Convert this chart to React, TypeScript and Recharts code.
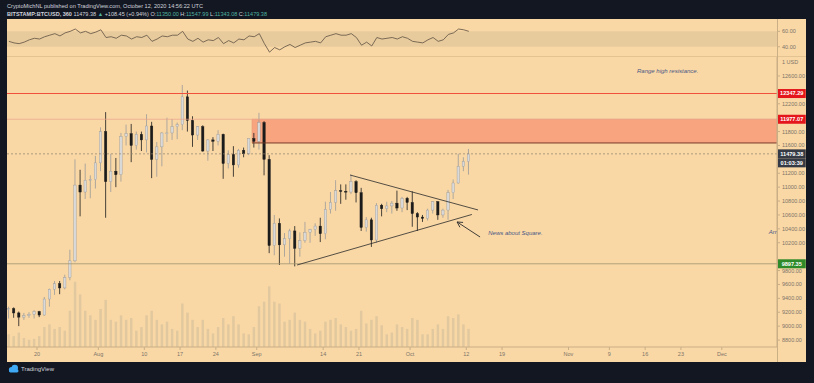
import React from 'react';
import { ComposedChart, LineChart, Line, Bar, XAxis, YAxis, ReferenceLine, ReferenceArea, ReferenceDot } from 'recharts';

// Days counted from 20 Jul 2020 (day 0). First candle = 14 Jul 2020.
const firstDay = -6;

const opens = [
  9250, 9250, 9190, 9130, 9150, 9170, 9210, 9160, 9390, 9530,
  9610, 9550, 9700, 9940, 11030, 10930, 11100, 11110, 11350, 11800,
  11080, 11230, 11180, 11730, 11770, 11600, 11760, 11680, 11880, 11400,
  11580, 11780, 11780, 11870, 11900, 12300, 11960, 11750, 11870, 11520,
  11680, 11660, 11760, 11340, 11470, 11320, 11530, 11480, 11700, 11660,
  11930, 11400, 10160, 10480, 10170, 10260, 10370, 10120, 10230, 10350,
  10390, 10440, 10330, 10680, 10780, 10950, 10940, 10930, 11080, 10920,
  10420, 10530, 10240, 10740, 10690, 10730, 10770, 10700, 10840, 10780,
  10620, 10570, 10550, 10670, 10790, 10600, 10670, 10920, 11060, 11300,
  11370,
];
const highs = [
  9280, 9270, 9210, 9190, 9200, 9230, 9220, 9420, 9540, 9650,
  9650, 9740, 10100, 11400, 11250, 11340, 11170, 11450, 11860, 12080,
  11480, 11420, 11780, 11900, 11910, 11800, 11800, 12050, 11940, 11650,
  11790, 12000, 11980, 11930, 12470, 12390, 12020, 11880, 11890, 11690,
  11720, 11820, 11770, 11530, 11590, 11550, 11570, 11700, 11780, 12070,
  11950, 11460, 10600, 10550, 10340, 10400, 10440, 10350, 10500, 10400,
  10480, 10560, 10790, 10930, 11100, 11040, 11040, 11180, 11100, 10990,
  10570, 10560, 10770, 10760, 10790, 10800, 10950, 10860, 10860, 10940,
  10640, 10600, 10690, 10800, 10800, 10690, 10960, 11110, 11480, 11430,
  11550,
];
const lows = [
  9110, 9120, 9000, 9090, 9120, 9110, 9130, 9150, 9280, 9450,
  9460, 9530, 9660, 9920, 10580, 10830, 10840, 10980, 11230, 10560,
  10930, 11000, 11080, 11600, 11360, 11540, 11520, 11500, 11130, 11150,
  11300, 11650, 11680, 11690, 11820, 11800, 11580, 11680, 11510, 11380,
  11520, 11600, 11120, 11270, 11150, 11280, 11430, 11460, 11570, 11540,
  11170, 10050, 10020, 9880, 10000, 9900, 9860, 10000, 10200, 10200,
  10300, 10210, 10250, 10620, 10660, 10760, 10820, 10900, 10780, 10370,
  10360, 10140, 10200, 10580, 10640, 10620, 10660, 10640, 10670, 10430,
  10370, 10500, 10520, 10620, 10530, 10560, 10530, 10830, 11050, 11230,
  11180,
];
const closes = [
  9250, 9190, 9130, 9150, 9170, 9210, 9160, 9390, 9530, 9610,
  9550, 9700, 9940, 11030, 10930, 11100, 11110, 11350, 11800, 11080,
  11230, 11180, 11730, 11770, 11600, 11760, 11680, 11880, 11400, 11580,
  11780, 11780, 11870, 11900, 12300, 11960, 11750, 11870, 11520, 11680,
  11660, 11760, 11340, 11470, 11320, 11530, 11480, 11700, 11660, 11930,
  11400, 10160, 10480, 10170, 10260, 10370, 10120, 10230, 10350, 10390,
  10440, 10330, 10680, 10780, 10950, 10940, 10930, 11080, 10920, 10420,
  10530, 10240, 10740, 10690, 10730, 10770, 10700, 10840, 10780, 10620,
  10570, 10550, 10670, 10790, 10600, 10670, 10920, 11060, 11300, 11370,
  11479.38,
];
const volumes = [
  14, 12, 16, 10, 8, 9, 12, 22, 25, 20,
  22, 18, 40, 72, 58, 40, 35, 30, 42, 52,
  30, 28, 35, 30, 32, 18, 22, 35, 40, 30,
  25, 28, 20, 18, 48, 38, 30, 22, 30, 20,
  15, 22, 32, 25, 34, 25, 15, 14, 22, 45,
  50, 67, 50, 48, 28, 30, 38, 30, 28, 20,
  15, 18, 28, 30, 32, 25, 22, 18, 20, 40,
  26, 30, 34, 24, 14, 16, 25, 22, 20, 32,
  30, 14, 14, 20, 25, 20, 34, 32, 36, 25,
  20,
];
const rsiValues = [
  47, 45, 44, 46, 49, 51, 50, 53, 55, 57,
  54, 58, 60, 63, 58, 60, 57, 59, 62, 52,
  53, 51, 55, 54, 50, 53, 52, 55, 47, 50,
  54, 53, 55, 55, 60, 50, 47, 51, 46, 49,
  48, 52, 44, 48, 45, 50, 49, 54, 53, 57,
  44, 33, 39, 36, 40, 43, 39, 42, 45, 46,
  47, 45, 53, 55, 57, 55, 55, 57, 52, 42,
  46, 41, 52, 50, 51, 52, 50, 53, 51, 47,
  46, 45, 49, 52, 47, 49, 56, 58, 63, 62,
  60,
];

const xTickDays = [0, 12, 21, 28, 35, 43, 56, 63, 73, 84, 91, 104, 112, 119, 126, 134];
const xTickLabels = ['20', 'Aug', '10', '17', '24', 'Sep', '14', '21', 'Oct', '12', '19', 'Nov', '9', '16', '23', 'Dec'];
// price ticks that are not covered by the coloured price tags
const priceTicks = [8800, 9000, 9200, 9400, 9600, 9800, 10200, 10400, 10600, 10800, 11000, 11200, 11600, 11800, 12200, 12600];
const rsiTicks = [40, 60];

const resistanceLine = 12347.29;
const zoneTop = 11977.07;
const zoneBottom = 11636;
const zoneStartDay = 42.07;
const lastPrice = 11479.38;
const supportLine = 9897.35;
const upperTrend = [{ x: 61.25, y: 11175 }, { x: 86.3, y: 10672 }];
const lowerTrend = [{ x: 50.9, y: 9880 }, { x: 85.1, y: 10607 }];
const arrowPts = [{ x: 86.7, y: 10283 }, { x: 82.2, y: 10499 }];

const X_DOMAIN = [-5.87, 144.8];
const BG = '#F9D8A6';
const AXIS = '#C9AE86';
const TICK = '#7E7466';
const FONT = '"Liberation Sans", Arial, sans-serif';
const NOTE = '#4A5784';

const rows = opens.map((o, i) => ({
  t: firstDay + i + 0.5,
  o,
  h: highs[i],
  l: lows[i],
  c: closes[i],
  v: volumes[i],
  r: rsiValues[i],
}));

const Candle = (props: any) => {
  const { x, y, width, height, payload } = props;
  if (!payload || !isFinite(x) || !isFinite(y) || !isFinite(height)) return null;
  const top0 = Math.min(y, y + height);
  const hh = Math.abs(height);
  const { o, h, l, c } = payload;
  const span = h - l || 1;
  const py = (v: number) => top0 + ((h - v) / span) * hh;
  const up = c >= o;
  const bTop = py(Math.max(o, c));
  const bBot = py(Math.min(o, c));
  const cx = x + width / 2;
  const col = up ? '#9A9A9A' : '#1B1B1B';
  return (
    <g>
      <line x1={cx} x2={cx} y1={top0} y2={top0 + hh} stroke={col} strokeWidth={0.8} />
      <rect x={x} y={bTop} width={width} height={Math.max(bBot - bTop, 0.8)} fill={up ? '#D9D9D9' : '#1B1B1B'} stroke={col} strokeWidth={0.4} />
    </g>
  );
};

const ArrowShape = (p: any) => {
  const { x1, y1, x2, y2 } = p;
  const ang = Math.atan2(y2 - y1, x2 - x1);
  const len = 6;
  const a1 = ang + Math.PI - 0.5;
  const a2 = ang + Math.PI + 0.5;
  return (
    <g>
      <line x1={x1} y1={y1} x2={x2} y2={y2} stroke="#2A2A2A" strokeWidth={0.9} />
      <polyline
        points={`${x2 + len * Math.cos(a1)},${y2 + len * Math.sin(a1)} ${x2},${y2} ${x2 + len * Math.cos(a2)},${y2 + len * Math.sin(a2)}`}
        fill="none" stroke="#2A2A2A" strokeWidth={0.9}
      />
    </g>
  );
};

const HLine = (color: string, width: number) => (p: any) => (
  <line x1={p.x1} y1={p.y1} x2={p.x2} y2={p.y2} stroke={color} strokeWidth={width} />
);

const noteShape = (text: string) => (p: any) => (
  <text x={p.cx} y={p.cy} dy="0.35em" fontSize={6} fontStyle="italic" fill={NOTE} fontFamily={FONT}>{text}</text>
);

const tagShape = (lines: string[], fill: string) => (p: any) => (
  <g>
    {lines.map((s, k) => (
      <g key={k}>
        <rect x={p.cx + 1} y={p.cy - 4.5 + k * 9} width={28} height={9} fill={fill} />
        <text x={p.cx + 15} y={p.cy + k * 9} dy="0.35em" textAnchor="middle" fontSize={5.6} fontWeight="bold" fill="#FFFFFF" fontFamily={FONT}>{s}</text>
      </g>
    ))}
  </g>
);

export default function App() {
  return (
    <div style={{ position: 'absolute', left: 0, top: 0, width: 814, height: 383, background: '#131722', overflow: 'hidden', fontFamily: FONT }}>
      <svg style={{ position: 'absolute', left: 0, top: 0 }} width={814} height={19}>
        <text x={7} y={8} fontSize={5.6} fill="#D1D4DC" fontFamily={FONT} textLength={196} lengthAdjust="spacingAndGlyphs">
          CryptoMichNL published on TradingView.com, October 12, 2020 14:56:22 UTC
        </text>
        <text x={7} y={16} fontSize={5.6} fill="#D1D4DC" fontFamily={FONT} textLength={260} lengthAdjust="spacingAndGlyphs">
          <tspan fontWeight="bold">BITSTAMP:BTCUSD, 360</tspan>
          <tspan> 11479.38 </tspan>
          <tspan fill="#4FB3A0">▲</tspan>
          <tspan> +108.45 (+0.94%) O:</tspan>
          <tspan fill="#4FB3A0">11350.00</tspan>
          <tspan> H:</tspan>
          <tspan fill="#4FB3A0">11547.99</tspan>
          <tspan> L:</tspan>
          <tspan fill="#4FB3A0">11343.08</tspan>
          <tspan> C:</tspan>
          <tspan fill="#4FB3A0">11479.38</tspan>
        </text>
      </svg>

      <div style={{ position: 'absolute', left: 7, top: 19, width: 799, height: 343, background: BG }} />
      <div style={{ position: 'absolute', left: 7, top: 56, width: 799, height: 1, background: '#E3C391' }} />

      <div style={{ position: 'absolute', left: 7, top: 19 }}>
        <LineChart width={799} height={37} data={rows} margin={{ top: 0, right: 0, bottom: 0, left: 0 }}>
          <XAxis dataKey="t" type="number" domain={X_DOMAIN} allowDataOverflow hide />
          <YAxis
            orientation="right" width={29} domain={[28, 76]} ticks={rsiTicks} interval={0} allowDataOverflow
            axisLine={false} tickSize={3} tickLine={{ stroke: AXIS }}
            tick={{ fontSize: 5.5, fill: TICK, fontFamily: FONT }}
            tickFormatter={(v: number) => v.toFixed(2)}
          />
          <ReferenceArea y1={40} y2={60} fill="#E8CB9C" fillOpacity={1} stroke="none" />
          <Line dataKey="r" type="linear" stroke="#5E5142" strokeWidth={0.8} dot={false} isAnimationActive={false} />
        </LineChart>
      </div>

      <div style={{ position: 'absolute', left: 7, top: 57 }}>
        <ComposedChart width={799} height={305} data={rows} margin={{ top: 0, right: 0, bottom: 0, left: 0 }}>
          <XAxis
            dataKey="t" type="number" domain={X_DOMAIN} allowDataOverflow ticks={xTickDays} interval={0}
            height={15} tickSize={3} axisLine={{ stroke: AXIS }} tickLine={{ stroke: AXIS }}
            tick={{ fontSize: 5.5, fill: TICK, fontFamily: FONT }}
            tickFormatter={(v: number) => xTickLabels[xTickDays.indexOf(v)] ?? ''}
          />
          <XAxis xAxisId="vx" dataKey="t" type="number" domain={X_DOMAIN} allowDataOverflow hide />
          <YAxis
            orientation="right" width={29} domain={[8700, 12873]} allowDataOverflow ticks={priceTicks} interval={0}
            axisLine={{ stroke: AXIS }} tickSize={3} tickLine={{ stroke: AXIS }}
            tick={{ fontSize: 5.5, fill: TICK, fontFamily: FONT }}
            tickFormatter={(v: number) => v.toFixed(2)}
          />
          <YAxis yAxisId="vol" domain={[0, 320]} hide />

          <ReferenceArea x1={zoneStartDay} x2={X_DOMAIN[1]} y1={zoneBottom} y2={zoneTop} fill="#F8A47F" fillOpacity={1} stroke="#E99A78" strokeWidth={0.6} />

          <Bar xAxisId="vx" yAxisId="vol" dataKey="v" barSize={2.5} fill="#E2C89E" isAnimationActive={false} />
          <Bar dataKey={(d: any) => [d.l, d.h]} barSize={2.4} shape={Candle} isAnimationActive={false} />

          <ReferenceLine y={resistanceLine} shape={HLine('#F0503C', 1.1)} />
          <ReferenceLine y={zoneTop} shape={HLine('#EDA48A', 0.7)} />
          <ReferenceLine segment={[{ x: zoneStartDay, y: zoneBottom }, { x: X_DOMAIN[1], y: zoneBottom }]} stroke="#6E3B25" strokeWidth={0.9} />
          <ReferenceLine y={lastPrice} stroke="#8C7E6C" strokeWidth={0.7} strokeDasharray="2 2" />
          <ReferenceLine y={supportLine} stroke="#A0946F" strokeWidth={0.8} />
          <ReferenceLine segment={upperTrend} stroke="#2A2A2A" strokeWidth={0.8} />
          <ReferenceLine segment={lowerTrend} stroke="#2A2A2A" strokeWidth={0.8} />
          <ReferenceLine segment={arrowPts} shape={ArrowShape} />

          <ReferenceDot x={117.4} y={12672} r={0} shape={noteShape('Range high resistance.')} />
          <ReferenceDot x={88.3} y={10341} r={0} shape={noteShape('News about Square.')} />
          <ReferenceDot x={143.2} y={10355} r={0} shape={noteShape('Arr')} />

          <ReferenceDot x={144.75} y={resistanceLine} r={0} shape={tagShape(['12347.29'], '#E5161B')} />
          <ReferenceDot x={144.75} y={zoneTop} r={0} shape={tagShape(['11977.07'], '#E5161B')} />
          <ReferenceDot x={144.75} y={lastPrice} r={0} shape={tagShape(['11479.38', '01:03:39'], '#363A45')} />
          <ReferenceDot x={144.75} y={supportLine} r={0} shape={tagShape(['9897.35'], '#2F8A2A')} />
        </ComposedChart>
      </div>

      <div style={{ position: 'absolute', left: 777, top: 19, width: 1, height: 343, background: AXIS }} />

      <svg style={{ position: 'absolute', left: 0, top: 0, pointerEvents: 'none' }} width={814} height={383}>
        <text x={782} y={62} dy="0.35em" fontSize={5.5} fill={TICK} fontFamily={FONT}>1 USD</text>
        <g fill="#3FA9F5">
          <circle cx={11.5} cy={369.5} r={2.6} />
          <circle cx={14.8} cy={368} r={3.2} />
          <rect x={9} y={369.5} width={9.5} height={3} rx={1.4} />
        </g>
        <text x={21} y={368.5} dy="0.35em" fontSize={6} fill="#D1D4DC" fontFamily={FONT}>TradingView</text>
      </svg>
    </div>
  );
}
